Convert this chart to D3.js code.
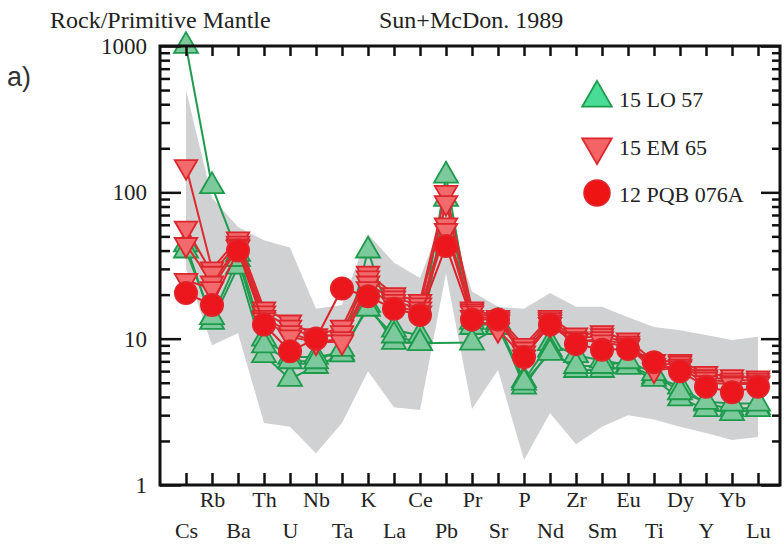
<!DOCTYPE html>
<html>
<head>
<meta charset="utf-8">
<script src="https://cdn.jsdelivr.net/npm/d3@7"></script>
<style>
  body { margin: 0; background: #fff; }
</style>
</head>
<body>
<div id="chart"></div>
<script>
// spider diagram, normalised to primitive mantle (Sun & McDonough 1989)
const elements = ['Cs', 'Rb', 'Ba', 'Th', 'U', 'Nb', 'Ta', 'K', 'La', 'Ce', 'Pb', 'Pr',
  'Sr', 'P', 'Nd', 'Zr', 'Sm', 'Eu', 'Ti', 'Dy', 'Y', 'Yb', 'Lu'];
const yTicks = [1, 10, 100, 1000];

// grey reference field
const fieldUpper = [500, 92, 58, 47, 42, 16, 17, 52, 33, 26, 75, 21, 16.5, 16, 20.5, 16.5, 16.5, 14, 12, 11.4, 10.6, 9.8, 10.3];
const fieldLower = [30, 9, 10.9, 2.65, 2.5, 1.65, 2.65, 6, 3.4, 3.25, 28, 3.3, 6.1, 1.48, 3.1, 1.9, 2.5, 3.0, 2.8, 2.5, 2.27, 2.03, 2.13];

// 15 LO 57
const lo57a = [1000, 110, 38, 10, 7.5, 7.5, 8, 40, 11.5, 10.5, 130, 13, 12.5, 5.2, 9.3, 7.7, 7.1, 6.6, 5.5, 4.7, 3.6, 3.3, 3.4];
const lo57b = [44, 13, 31, 7.7, 5.3, 6.5, 7.8, 17, 9.5, 9.3, 90, 12, 13, 4.7, 8.4, 6.1, 6.1, 6.4, 5.3, 3.9, 3.3, 3.1, 3.3];
const lo57c = [40, 14, 35, 9, 7, 7, 8.5, 16, 10.5, 9.3, null, 9.4, 12, 5.0, 8.0, 6.5, 6.5, 7.0, 5.8, 4.3, 3.7, 3.6, 3.6];

// 15 EM 65
const em65a = [150, 30, 48, 16, 13, 10.5, 12, 28, 20, 18, 100, 16, 14, 9, 14, 10.6, 11, 9.8, 7, 7, 5.8, 5.5, 5.4];
const em65b = [57, 28, 45, 15, 12, 10, 11, 26, 19, 17, 85, 15.5, 13.5, 8.5, 13.5, 10, 10.5, 9.3, 6.6, 6.8, 5.5, 5.2, 5.2];
const em65c = [44, 24, 43, 14, 11, 9.5, 10, 24, 18, 16, 60, 15, 13, 8, 13, 9.5, 10, 9, 6.3, 6.5, 5.3, 5.0, 5.0];
const em65d = [25, 22, 42, 13.5, 10.3, 9.5, 9.5, 22, 17, 15, 55, 14, 11.5, 7.5, 12.5, 9.8, 9.5, 8.8, 6.1, 6.3, 5.0, 4.9, 4.9];

// 12 PQB 076A
const pqb076a = [20.5, 17, 40, 12.5, 8.2, 10, 22, 19.5, 16, 14.5, 43, 13.5, 13.5, 7.5, 12.5, 9.2, 8.4, 8.5, 6.9, 6.0, 4.7, 4.3, 4.7];

const groups = [
  { name: '15 LO 57', series: [lo57a, lo57b, lo57c], symbol: d3.symbolTriangle, rotate: 0, size: 250,
    line: '#1f9c4f', fill: '#7cc99c', stroke: '#1d9a4c', legendFill: '#48dc97' },
  { name: '15 EM 65', series: [em65a, em65b, em65c, em65d], symbol: d3.symbolTriangle, rotate: 180, size: 220,
    line: '#dc2a2f', fill: '#f26a6c', stroke: '#da262c', legendFill: '#f56464' },
  { name: '12 PQB 076A', series: [pqb076a], symbol: d3.symbolCircle, rotate: 0, size: 390,
    line: '#dc2228', fill: '#ec161d', stroke: '#e0242a', legendFill: '#ee1414' }
];

const serif = '"Liberation Serif", "Times New Roman", Times, "DejaVu Serif", serif';
const width = 784;
const height = 544;
const frame = { left: 160, right: 780, top: 46, bottom: 485 };

const svg = d3.select('#chart')
  .append('svg')
  .attr('width', width)
  .attr('height', height);

const xScale = d3.scalePoint()
  .domain(elements)
  .range([186, 758]);

const yScale = d3.scaleLog()
  .domain([1, 1000])
  .range([frame.bottom, frame.top]);

// field
const area = d3.area()
  .x((d, i) => xScale(elements[i]))
  .y0((d, i) => yScale(fieldLower[i]))
  .y1(d => yScale(d));

svg.append('path')
  .datum(fieldUpper)
  .attr('fill', '#d0d1d3')
  .attr('d', area);

// samples
const line = d3.line()
  .x(d => xScale(d.el))
  .y(d => yScale(d.v));

groups.forEach(g => {
  g.series.forEach(values => {
    const pts = elements.map((el, i) => ({ el, v: values[i] })).filter(d => d.v != null);
    svg.append('path')
      .datum(pts)
      .attr('fill', 'none')
      .attr('stroke', g.line)
      .attr('stroke-width', 2)
      .attr('d', line);
  });
  g.series.forEach(values => {
    const pts = elements.map((el, i) => ({ el, v: values[i] })).filter(d => d.v != null);
    svg.append('g')
      .selectAll('path')
      .data(pts)
      .enter()
      .append('path')
      .attr('d', d3.symbol().type(g.symbol).size(g.size))
      .attr('transform', d => `translate(${xScale(d.el)},${yScale(d.v)}) rotate(${g.rotate})`)
      .attr('fill', g.fill)
      .attr('stroke', g.stroke)
      .attr('stroke-width', 1.8);
  });
});

// axes
const minors = [];
[1, 10, 100].forEach(dec => {
  for (let k = 2; k <= 9; k++) minors.push(dec * k);
});

const styleAxis = sel => {
  sel.attr('font-family', null).attr('font-size', null);
  sel.select('.domain').remove();
  sel.selectAll('line').attr('stroke', '#111').attr('stroke-width', 2.5);
  sel.selectAll('text').style('font-family', serif).attr('fill', '#222');
};

svg.append('g')
  .attr('transform', `translate(${frame.left},0)`)
  .call(d3.axisLeft(yScale).tickValues(yTicks).tickSize(-21).tickPadding(13).tickFormat(d3.format('d')))
  .call(styleAxis)
  .selectAll('text')
  .style('font-size', '23px');

svg.append('g')
  .attr('transform', `translate(${frame.left},0)`)
  .call(d3.axisLeft(yScale).tickValues(minors).tickSize(-10).tickFormat(''))
  .call(styleAxis);

svg.append('g')
  .attr('transform', `translate(${frame.right},0)`)
  .call(d3.axisRight(yScale).tickValues(yTicks).tickSize(-19).tickFormat(''))
  .call(styleAxis);

svg.append('g')
  .attr('transform', `translate(${frame.right},0)`)
  .call(d3.axisRight(yScale).tickValues(minors).tickSize(-8).tickFormat(''))
  .call(styleAxis);

svg.append('g')
  .attr('transform', `translate(0,${frame.top})`)
  .call(d3.axisTop(xScale).tickSize(-10).tickFormat(''))
  .call(styleAxis);

svg.append('g')
  .attr('transform', `translate(0,${frame.bottom})`)
  .call(d3.axisBottom(xScale).tickSize(-12).tickPadding(6))
  .call(styleAxis)
  .selectAll('text')
  .style('font-size', '22px')
  .attr('transform', (d, i) => (i % 2 === 0 ? 'translate(0,31)' : null));

svg.append('rect')
  .attr('x', frame.left)
  .attr('y', frame.top)
  .attr('width', frame.right - frame.left)
  .attr('height', frame.bottom - frame.top)
  .attr('fill', 'none')
  .attr('stroke', '#111')
  .attr('stroke-width', 3);

// titles
const label = (x, y, txt, size) => svg.append('text')
  .attr('x', x)
  .attr('y', y)
  .attr('fill', '#222')
  .style('font-family', serif)
  .style('font-size', size)
  .text(txt);

label(50, 28, 'Rock/Primitive Mantle', '24px');
label(379, 28, 'Sun+McDon. 1989', '24px');

svg.append('text')
  .attr('x', 7)
  .attr('y', 86)
  .attr('fill', '#333')
  .style('font-family', '"Liberation Sans", Arial, sans-serif')
  .style('font-size', '27px')
  .text('a)');

// legend
groups.forEach((g, i) => {
  const cy = [98, 147, 193][i];
  svg.append('path')
    .attr('d', d3.symbol().type(g.symbol).size(i === 2 ? 520 : 380))
    .attr('transform', `translate(597,${cy}) rotate(${g.rotate})`)
    .attr('fill', g.legendFill)
    .attr('stroke', g.stroke)
    .attr('stroke-width', 1.8);
  label(619, [107, 155, 202][i], g.name, '22px');
});
</script>
</body>
</html>
